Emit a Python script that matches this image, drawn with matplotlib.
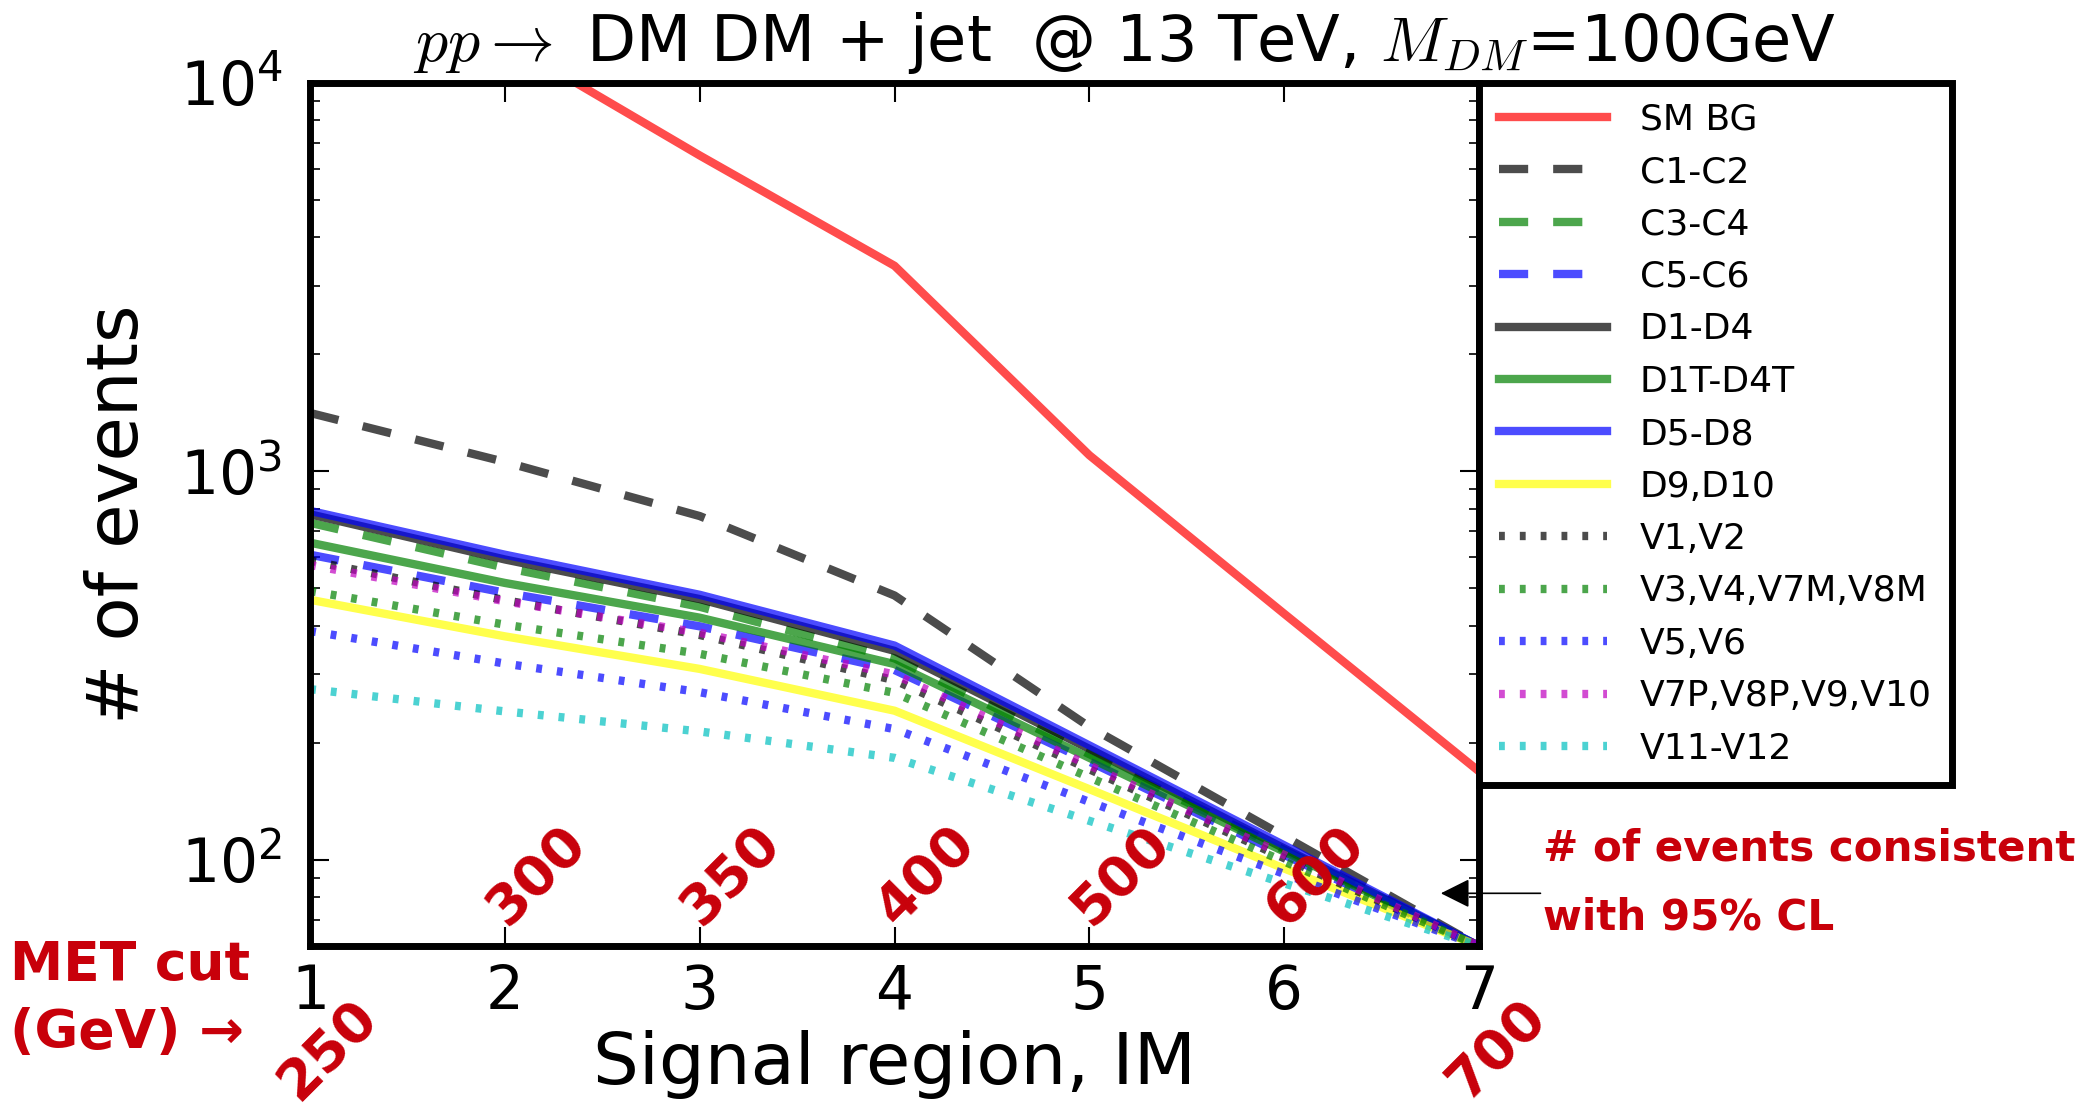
import numpy as np
import matplotlib.pyplot as plt

# signal regions and the MET cut of each one
regions = [1, 2, 3, 4, 5, 6, 7]
met_cuts = [250, 300, 350, 400, 500, 600, 700]

# number of events per signal region
sm_bg = [25000, 12800, 6500, 3380, 1100, 430, 169]
c1_c2 = [1413, 1057, 767, 479, 220, 115, 60]
c3_c4 = [737, 565, 448, 330, 187, 106, 60]
c5_c6 = [610, 487, 399, 308, 179, 103, 60]
d1_d4 = [775, 593, 469, 345, 193, 107, 60]
d1t_d4t = [655, 516, 420, 319, 183, 105, 60]
d5_d8 = [791, 610, 481, 356, 197, 109, 60]
d9_d10 = [467, 376, 310, 242, 152, 95, 60]
v1_v2 = [589, 466, 379, 290, 171, 101, 60]
v3_v4 = [492, 403, 339, 269, 163, 99, 60]
v5_v6 = [388, 320, 270, 217, 141, 92, 60]
v7p_v10 = [574, 463, 384, 300, 175, 103, 60]
v11_v12 = [275, 241, 214, 183, 126, 87, 60]

labels = ['SM BG', 'C1-C2', 'C3-C4', 'C5-C6', 'D1-D4', 'D1T-D4T', 'D5-D8',
          'D9,D10', 'V1,V2', 'V3,V4,V7M,V8M', 'V5,V6', 'V7P,V8P,V9,V10', 'V11-V12']
series = [sm_bg, c1_c2, c3_c4, c5_c6, d1_d4, d1t_d4t, d5_d8,
          d9_d10, v1_v2, v3_v4, v5_v6, v7p_v10, v11_v12]
colors = ['r', 'k', 'g', 'b', 'k', 'g', 'b', 'yellow', 'k', 'g', 'b', 'm', 'c']
dash = (0, (3.5, 3))
dot = (0, (0.7, 1.8))
styles = ['-', dash, dash, dash, '-', '-', '-', '-', dot, dot, dot, dot, dot]

red = '#c8000a'

fig = plt.figure(figsize=(20.91, 11.11), dpi=100)
ax = fig.add_axes([0.1483, 0.1485, 0.559, 0.777])

for y, lab, col, ls in zip(series, labels, colors, styles):
    ax.plot(regions, y, color=col, ls=ls, lw=6, alpha=0.7, label=lab)

ax.set_yscale('log')
ax.set_xlim(1, 7)
ax.set_ylim(60, 1e4)
ax.set_xticks(regions)

for sp in ax.spines.values():
    sp.set_linewidth(5)
ax.tick_params(which='both', direction='in', top=True, right=True)
ax.tick_params(which='major', length=14, width=1.5, labelsize=43, pad=12)
ax.tick_params(which='minor', length=7, width=1.2)
ax.tick_params(axis='y', which='major', pad=20)

ax.set_xlabel('Signal region, IM', fontsize=52)
ax.set_ylabel('# of events', fontsize=52)
ax.xaxis.set_label_coords(0.5, -0.097)
ax.yaxis.set_label_coords(-0.134, 0.5)

fig.text(0.538, 0.945, r'$pp \rightarrow$ DM DM + jet  @ 13 TeV, $M_{DM}$=100GeV',
         fontsize=46, ha='center', va='baseline', math_fontfamily='cm')

leg = ax.legend(loc='upper left', bbox_to_anchor=(1.0, 1.0), borderaxespad=0,
                fontsize=26, handlelength=3.0, handletextpad=0.9,
                labelspacing=0.51, fancybox=False, framealpha=1,
                borderpad=0.55)
leg.get_frame().set_edgecolor('black')
leg.get_frame().set_linewidth(5)

# MET cut annotations along the x axis
trans = ax.get_xaxis_transform()
for r, m in zip(regions, met_cuts):
    if r in (1, 7):
        ax.text(r - 0.02, -0.19, str(m), transform=trans, rotation=45,
                rotation_mode='anchor', ha='left', va='bottom', color=red,
                fontsize=40, fontweight='bold', clip_on=False)
    else:
        ax.text(r + 0.05, 0.012, str(m), transform=trans, rotation=45,
                rotation_mode='anchor', ha='left', va='bottom', color=red,
                fontsize=40, fontweight='bold')

fig.text(0.005, 0.155, 'MET cut\n(GeV) \u2192', color=red, fontsize=38.5,
         fontweight='bold', ha='left', va='top', linespacing=1.4)

ax.annotate('', xy=(6.79, 82), xytext=(1.055, 82),
            textcoords=('axes fraction', 'data'),
            arrowprops=dict(arrowstyle='-|>', color='black', lw=1.2,
                            mutation_scale=45), annotation_clip=False)
fig.text(0.738, 0.255, '# of events consistent\nwith 95% CL', color=red,
         fontsize=30.3, fontweight='bold', ha='left', va='top', linespacing=1.8)

fig.savefig('out.png', dpi=100)
